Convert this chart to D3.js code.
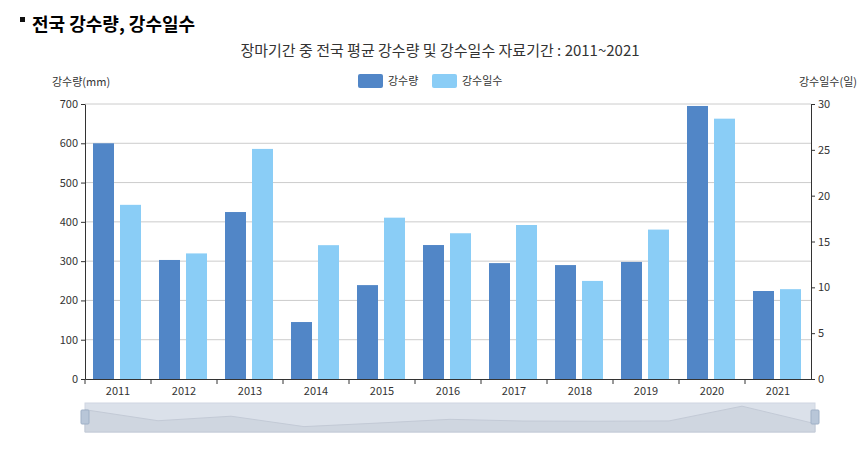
<!DOCTYPE html><html><head><meta charset="utf-8"><script src="https://cdn.jsdelivr.net/npm/d3@7"></script>
<style>body{margin:0;background:#fff;font-family:"Noto Sans CJK KR","Noto Sans",sans-serif}</style></head><body><svg id="c" width="860" height="458"></svg>
<script>
const years=["2011","2012","2013","2014","2015","2016","2017","2018","2019","2020","2021"];
const rain=[600,303,425,145,239,341,295,290,298,695,224];
const days=[19.0,13.7,25.1,14.6,17.6,15.9,16.8,10.7,16.3,28.4,9.8];
const leftTicks=[0,100,200,300,400,500,600,700];
const rightTicks=[0,5,10,15,20,25,30];
const svg=d3.select("#c");
const L=85,R=811,T=104,B=379;
const x=d3.scaleBand().domain(years).range([L,R]);
const yl=d3.scaleLinear().domain([0,700]).range([B,T]);
const yr=d3.scaleLinear().domain([0,30]).range([B,T]);
const f="Noto Sans CJK KR";
svg.append("rect").attr("x",20).attr("y",17).attr("width",5).attr("height",5).attr("fill","#111");
svg.append("text").attr("x",32).attr("y",31).attr("font-size",18).attr("font-weight","bold").attr("font-family",f).text("전국 강수량, 강수일수");
svg.append("text").attr("x",440).attr("y",56).attr("text-anchor","middle").attr("font-size",15).attr("fill","#333").attr("font-family",f).text("장마기간 중 전국 평균 강수량 및 강수일수 자료기간 : 2011~2021");
svg.append("text").attr("x",52).attr("y",86).attr("font-size",11).attr("fill","#333").attr("font-family",f).text("강수량(mm)");
svg.append("text").attr("x",828).attr("y",86).attr("font-size",11).attr("fill","#333").attr("text-anchor","middle").attr("font-family",f).text("강수일수(일)");
[["강수량","#5186c7",358],["강수일수","#8acdf6",432]].forEach(([t,c,px])=>{
 svg.append("rect").attr("x",px).attr("y",74).attr("width",25).attr("height",14).attr("rx",2).attr("fill",c);
 svg.append("text").attr("x",px+30).attr("y",85).attr("font-size",11).attr("fill","#333").attr("font-family",f).text(t);
});
svg.append("g").selectAll("line").data(leftTicks.slice(1)).join("line").attr("x1",L).attr("x2",R).attr("y1",d=>yl(d)).attr("y2",d=>yl(d)).attr("stroke","#ccc");
const g=svg.append("g");
const bw=21;
g.selectAll(".a").data(years).join("rect").attr("x",(d)=>x(d)+x.bandwidth()/2-bw-4).attr("width",bw).attr("y",(d,i)=>yl(rain[i])).attr("height",(d,i)=>B-yl(rain[i])).attr("fill","#5186c7");
g.selectAll(".b").data(years).join("rect").attr("x",(d)=>x(d)+x.bandwidth()/2+2).attr("width",bw).attr("y",(d,i)=>yr(days[i])).attr("height",(d,i)=>B-yr(days[i])).attr("fill","#8acdf6");
const ax=svg.append("g").attr("transform",`translate(0,${B})`).call(d3.axisBottom(x).tickSize(5).tickSizeOuter(0));
ax.selectAll(".tick line").attr("transform",`translate(${-x.bandwidth()/2},0)`);
const al=svg.append("g").attr("transform",`translate(${L},0)`).call(d3.axisLeft(yl).tickValues(leftTicks).tickSize(4).tickSizeOuter(0));
const ar=svg.append("g").attr("transform",`translate(${R},0)`).call(d3.axisRight(yr).tickValues(rightTicks).tickSize(4).tickSizeOuter(0));
[ax,al,ar].forEach(a=>{a.selectAll("text").attr("font-size",11).attr("fill","#333").attr("font-family",f);a.selectAll("line,path").attr("stroke","#333");});
// slider
const sx=d3.scalePoint().domain(years).range([85,815]);
const sy=d3.scaleLinear().domain([0,700]).range([432,406]);
svg.append("rect").attr("x",85).attr("y",403).attr("width",730).attr("height",29).attr("fill","#dbe1ea").attr("stroke","#cfd6e2");
svg.append("path").datum(rain).attr("d",d3.area().x((d,i)=>sx(years[i])).y0(432).y1(d=>sy(d))).attr("fill","#cfd6e0").attr("stroke","#c3cad6");
[85,815].forEach(p=>svg.append("rect").attr("x",p-4).attr("y",410).attr("width",8).attr("height",14).attr("rx",1).attr("fill","#b8c6d8").attr("stroke","#9fb0c6"));
</script></body></html>
